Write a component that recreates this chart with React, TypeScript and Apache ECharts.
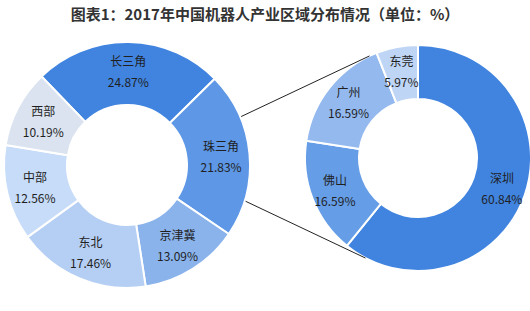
import React, { useEffect, useRef } from "react";
import * as echarts from "echarts";

const titleText = "图表1：2017年中国机器人产业区域分布情况（单位：%）";

const regionNames = ["长三角", "珠三角", "京津冀", "东北", "中部", "西部"];
const regionValues = [24.87, 21.83, 13.09, 17.46, 12.56, 10.19];
const regionColors = ["#4084DF", "#5D97E5", "#8AB3EC", "#B5CFF4", "#C7DCF8", "#DAE3EF"];

const cityNames = ["深圳", "佛山", "广州", "东莞"];
const cityValues = [60.84, 16.59, 16.59, 5.97];
const cityColors = ["#4084DF", "#659DE7", "#93B9EF", "#BED5F5"];

// geometry (layout only)
const L = { cx: 127, cy: 165, r0: 60, r: 123, start: 134 };
const R = { cx: 418, cy: 158, r0: 59, r: 113, start: 90 };

function pt(g: { cx: number; cy: number }, r: number, deg: number) {
  const a = (deg * Math.PI) / 180;
  return [g.cx + r * Math.sin(a), g.cy - r * Math.cos(a)];
}

export default function App() {
  const ref = useRef<HTMLDivElement>(null);
  useEffect(() => {
    if (!ref.current) return;
    const chart = echarts.init(ref.current, null, { renderer: "svg" });
    const font = "'Noto Sans CJK SC', 'Noto Sans', sans-serif";
    const labelFmt = (p: any) => `${p.name}\n${Number(p.value).toFixed(2)}%`;
    const lt = pt(L, 124, 67);
    const lb = pt(L, 124, 107);
    const rt = pt(R, 113, 334.6);
    const rb = pt(R, 113, 207.7);
    chart.setOption({
      animation: false,
      backgroundColor: "#ffffff",
      title: {
        text: titleText,
        left: "center",
        top: 1,
        textStyle: { fontSize: 15, fontWeight: "bold", color: "#333333", fontFamily: font },
      },
      series: [
        {
          type: "pie",
          center: [L.cx, L.cy],
          radius: [L.r0, L.r],
          startAngle: L.start,
          clockwise: true,
          avoidLabelOverlap: false,
          itemStyle: { borderColor: "#ffffff", borderWidth: 2 },
          label: {
            show: true,
            position: "inside",
            formatter: labelFmt,
            fontSize: 12,
            lineHeight: 21,
            color: "#1f1f1f",
            fontFamily: font,
          },
          labelLine: { show: false },
          data: regionNames.map((n, i) => ({
            name: n,
            value: regionValues[i],
            itemStyle: { color: regionColors[i] },
          })),
        },
        {
          type: "pie",
          center: [R.cx, R.cy],
          radius: [R.r0, R.r],
          startAngle: R.start,
          clockwise: true,
          avoidLabelOverlap: false,
          itemStyle: { borderColor: "#ffffff", borderWidth: 2 },
          label: {
            show: true,
            position: "inside",
            formatter: labelFmt,
            fontSize: 12,
            lineHeight: 21,
            color: "#1f1f1f",
            fontFamily: font,
          },
          labelLine: { show: false },
          data: cityNames.map((n, i) => ({
            name: n,
            value: cityValues[i],
            itemStyle: { color: cityColors[i] },
          })),
        },
      ],
      graphic: [
        {
          type: "line",
          z: 100,
          shape: { x1: lt[0], y1: lt[1], x2: rt[0], y2: rt[1] },
          style: { stroke: "#222222", lineWidth: 1 },
        },
        {
          type: "line",
          z: 100,
          shape: { x1: lb[0], y1: lb[1], x2: rb[0], y2: rb[1] },
          style: { stroke: "#222222", lineWidth: 1 },
        },
      ],
    });
    return () => chart.dispose();
  }, []);
  return (
    <div
      ref={ref}
      style={{ position: "fixed", left: 0, top: 0, width: 530, height: 311 }}
    />
  );
}
